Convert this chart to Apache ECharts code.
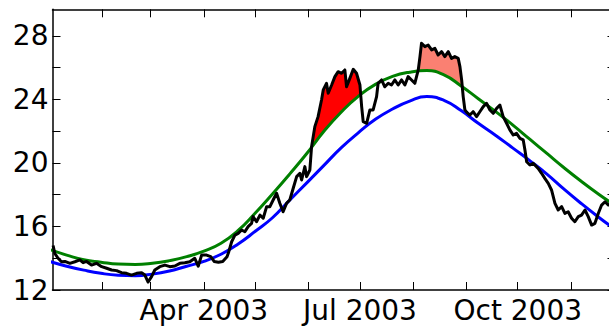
<!DOCTYPE html>
<html><head><meta charset="utf-8">
<script src="https://cdn.jsdelivr.net/npm/echarts@6/dist/echarts.min.js"></script>
<style>html,body{margin:0;padding:0;overflow:hidden;background:#fff}#c{width:620px;height:329px}</style>
</head><body><div id="c"></div>
<script>
// ---- data (days counted from 2003-01-01) ----
const blackDay = [2.1,3.1,5.0,7.0,9.0,11.9,14.8,17.7,19.6,21.6,24.5,27.4,30.4,33.3,36.2,39.1,42.0,44.9,47.8,50.8,53.7,55.6,57.5,59.5,61.4,64.3,67.3,70.2,73.1,76.0,78.9,81.8,84.7,86.7,88.7,91.6,94.0,96.0,98.5,101.0,103.5,104.5,106.2,108.1,110.0,112.0,113.9,115.8,117.8,118.7,120.7,122.7,124.6,126.6,128.5,130.4,132.4,134.3,136.2,138.2,140.1,142.1,144.1,146.0,147.0,148.9,149.9,151.8,152.8,154.7,156.6,158.6,159.6,161.5,162.5,164.5,166.4,168.3,170.3,172.2,173.2,175.1,177.1,179.0,181.0,182.0,182.9,184.9,186.8,188.7,190.7,191.6,193.6,195.5,197.5,199.4,201.4,203.3,205.3,207.2,209.1,211.1,213.0,215.0,216.0,216.9,218.9,220.8,222.8,224.7,226.6,228.6,230.5,232.5,234.4,236.3,238.3,239.3,240.3,241.2,242.2,243.2,245.1,247.0,249.0,250.9,252.9,254.8,256.8,258.7,260.7,262.6,264.5,266.5,268.4,270.4,272.3,274.3,276.2,277.2,278.2,280.1,282.0,284.9,286.9,288.8,290.8,292.7,294.7,296.6,298.6,300.5,302.4,304.4,306.3,308.3,310.2,312.2,314.1,316.1,318.0,320.0,321.9,323.9,325.9,328.0,330.0];
const blackTemp = [14.8,14.3,14.0,13.78,13.8,13.68,13.78,13.9,13.72,13.8,13.57,13.68,13.47,13.37,13.26,13.22,13.09,13.05,12.94,13.05,13.09,12.94,12.5,12.84,13.26,13.47,13.57,13.47,13.51,13.68,13.72,13.78,14.0,13.5,14.2,14.2,14.1,13.8,13.75,13.8,14.1,14.4,15.04,15.46,15.57,15.78,15.67,15.99,16.2,16.62,16.3,16.72,16.52,17.25,17.25,17.67,18.09,17.46,16.93,17.46,17.67,18.41,19.14,19.35,18.93,19.77,19.14,19.56,21.03,22.29,22.92,23.97,24.6,25.02,24.39,24.91,25.44,25.75,25.65,25.86,24.8,25.33,25.9,25.65,24.91,23.55,22.6,22.5,23.34,23.34,24.18,25.02,25.23,24.8,25.02,24.91,25.23,24.91,25.23,24.91,25.44,25.23,25.02,25.86,26.7,27.54,27.33,27.43,27.12,27.22,26.8,27.01,26.7,27.01,26.59,26.7,26.59,26.07,25.23,24.18,23.34,23.2,23.02,23.23,22.92,23.23,23.55,23.76,23.34,23.13,23.44,23.65,22.92,22.5,22.08,21.76,21.87,21.55,21.45,20.82,20.08,19.87,19.98,19.66,19.35,19.03,18.72,18.3,17.46,17.04,17.25,16.83,16.93,16.52,16.3,16.62,16.72,17.04,16.62,16.09,16.2,16.83,17.35,17.56,17.35,17.5,17.3];
const curveDay = [0,10,20,30,40,50,60,70,80,90,100,110,120,130,140,150,160,170,180,190,200,210,220,230,240,250,260,270,280,290,300,310,320,330];
const greenTemp = [14.55,14.2,13.9,13.75,13.63,13.6,13.68,13.85,14.1,14.45,14.95,15.75,16.85,18.05,19.3,20.6,22.0,23.2,24.2,24.95,25.45,25.72,25.82,25.55,24.85,24.05,23.25,22.4,21.5,20.6,19.7,18.85,18.05,17.3];
const blueTemp = [13.8,13.5,13.25,13.05,12.93,12.9,13.0,13.2,13.5,13.8,14.25,14.9,15.7,16.55,17.65,18.75,19.85,20.95,21.9,22.75,23.4,23.9,24.18,23.95,23.3,22.5,21.75,20.95,20.15,19.3,18.35,17.45,16.6,15.8];
// fill spans: start/end crossing points [day, temp]
const redStart = [152.8, 21.03], redEnd = [181.5, 24.35];
const salmonStart = [215.0, 25.8], salmonEnd = [240.6, 24.8];
// axis ticks / labels
const xTickDates = ['2003-02-01','2003-03-01','2003-04-01','2003-05-01','2003-06-01','2003-07-01','2003-08-01','2003-09-01','2003-10-01','2003-11-01'];
const xLabelDates = ['2003-04-01','2003-07-01','2003-10-01'];
const xLabelText = ['Apr 2003','Jul 2003','Oct 2003'];
const yTicks = [12,14,16,18,20,22,24,26,28];
const yLabels = [12,16,20,24,28];
const xMinDay = 1.75, xMaxDay = 330, yMin = 12, yMax = 29.68;

// ---- build ----
const START = Date.UTC(2003,0,1), DAY = 86400000;
const ts = d => START + d * DAY;
const pairs = (ds, vs) => ds.map((d, i) => [ts(d), vs[i]]);
const xTickTs = xTickDates.map(s => Date.parse(s));
const xLabelTs = xLabelDates.map(s => Date.parse(s));

function fillPoly(s, e) {
  const pts = [s];
  blackDay.forEach((d, i) => { if (d > s[0] && d < e[0]) pts.push([d, blackTemp[i]]); });
  pts.push(e);
  const g = [];
  curveDay.forEach((d, i) => { if (d > s[0] && d < e[0]) g.push([d, greenTemp[i]]); });
  return pts.concat(g.reverse());
}
function fillSeries(s, e, color) {
  const poly = fillPoly(s, e);
  return {
    type: 'custom', silent: true, z: 1, clip: true,
    data: [[ts(s[0]), s[1]]],
    encode: {x: 0, y: 1},
    renderItem: (params, api) => ({
      type: 'polygon',
      shape: {points: poly.map(p => api.coord([ts(p[0]), p[1]]))},
      style: {fill: color, stroke: null}
    })
  };
}

const axisLineStyle = {show: true, onZero: false, lineStyle: {color: '#000', width: 1.5}};
const tickStyle = (vals) => ({show: true, inside: true, length: 8, lineStyle: {color: '#000', width: 1}, customValues: vals});
const labelFont = {fontSize: 28, fontFamily: 'DejaVu Sans', color: '#000'};
const xFmt = v => { const i = xLabelTs.findIndex(t => Math.abs(t - v) < DAY); return i >= 0 ? xLabelText[i] : ''; };

const chart = echarts.init(document.getElementById('c'), null, {renderer: 'svg'});
chart.setOption({
  animation: false,
  backgroundColor: '#fff',
  grid: {left: 52.5, right: 4.5, top: 9.3, bottom: 39, containLabel: false, outerBoundsMode: 'none'},
  xAxis: [
    {type: 'value', position: 'bottom', min: ts(xMinDay), max: ts(xMaxDay), scale: true,
     axisLine: axisLineStyle, axisTick: tickStyle(xTickTs), splitLine: {show: false},
     axisLabel: Object.assign({show: true, margin: 6, customValues: xLabelTs, hideOverlap: false, formatter: xFmt}, labelFont)},
    {type: 'value', position: 'top', min: ts(xMinDay), max: ts(xMaxDay), scale: true,
     axisLine: axisLineStyle, axisTick: tickStyle(xTickTs), splitLine: {show: false}, axisLabel: {show: false}}
  ],
  yAxis: [
    {type: 'value', position: 'left', min: yMin, max: yMax,
     axisLine: axisLineStyle, axisTick: tickStyle(yTicks), splitLine: {show: false},
     axisLabel: Object.assign({show: true, margin: 4, customValues: yLabels, formatter: v => String(v)}, labelFont)},
    {type: 'value', position: 'right', min: yMin, max: yMax,
     axisLine: axisLineStyle, axisTick: tickStyle(yTicks), splitLine: {show: false}, axisLabel: {show: false}}
  ],
  series: [
    fillSeries(redStart, redEnd, '#ff0000'),
    fillSeries(salmonStart, salmonEnd, '#fa8072'),
    {type: 'line', name: 'blue', data: pairs(curveDay, blueTemp), smooth: true, showSymbol: false, symbol: 'none', z: 2,
     lineStyle: {color: '#0000ff', width: 3}},
    {type: 'line', name: 'green', data: pairs(curveDay, greenTemp), smooth: true, showSymbol: false, symbol: 'none', z: 3,
     lineStyle: {color: '#008000', width: 3}},
    {type: 'line', name: 'black', data: pairs(blackDay, blackTemp), showSymbol: false, symbol: 'none', z: 4,
     lineStyle: {color: '#000', width: 3, join: 'round'}}
  ]
});
</script></body></html>
